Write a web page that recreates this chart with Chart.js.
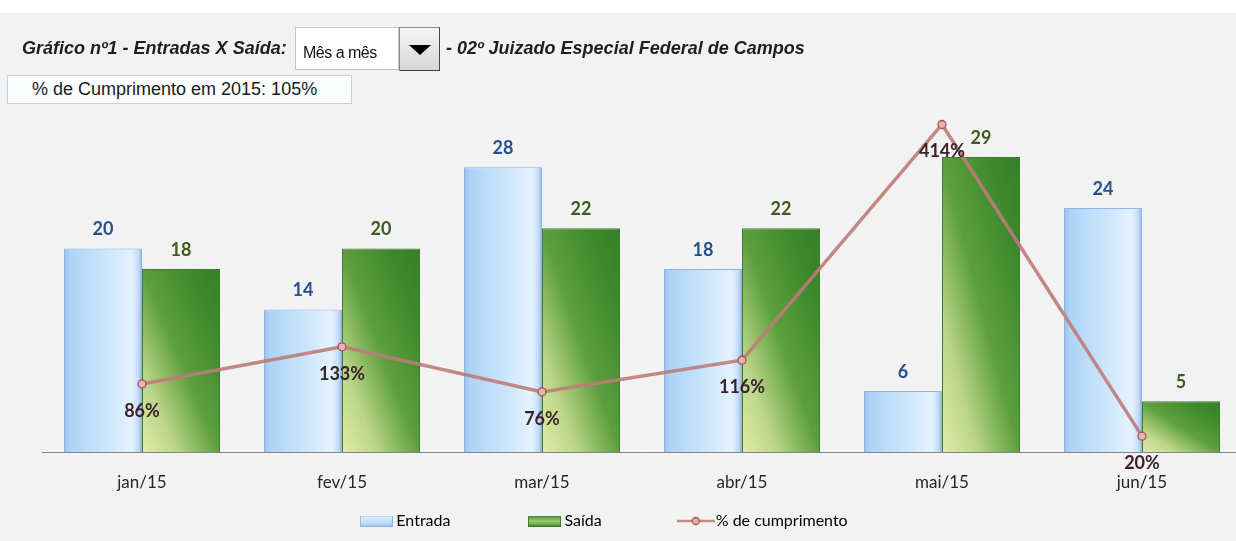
<!DOCTYPE html>
<html>
<head>
<meta charset="utf-8">
<script src="https://cdn.jsdelivr.net/npm/chart.js@4.4.0/dist/chart.umd.min.js"></script>
<style>
  html, body { margin: 0; padding: 0; width: 1236px; height: 541px; overflow: hidden; background: #f2f2f2; }
  #faixa { position: absolute; left: 0; top: 0; width: 1236px; height: 13px; background: #fff; }
  #grafico { position: absolute; left: 0; top: 0; }
  .titulo { position: absolute; font-family: "Liberation Sans", Arial, sans-serif; font-weight: bold; font-style: italic;
            font-size: 18px; line-height: 20px; color: #1e1e1e; white-space: nowrap; z-index: 2; }
  #combo { position: absolute; left: 295px; top: 27px; width: 104px; height: 43px; background: #fff; border: 1px solid #c4c4c4;
           font-family: "Liberation Sans", Arial, sans-serif; font-size: 16px; letter-spacing: -0.5px; line-height: 50px;
           padding-left: 7px; box-sizing: border-box; color: #111; z-index: 2; }
  #botao { position: absolute; left: 399px; top: 27px; width: 41px; height: 44px; box-sizing: border-box;
           background: linear-gradient(#f6f6f6, #d6d6d6); border: 1px solid #8a8a8a; border-right-color: #444; border-bottom-color: #444; z-index: 2; }
  #seta { position: absolute; left: 409px; top: 45px; width: 0; height: 0; border-left: 11px solid transparent;
          border-right: 11px solid transparent; border-top: 10px solid #000; z-index: 3; }
  #caixa { position: absolute; left: 7px; top: 75px; width: 345px; height: 29px; box-sizing: border-box; background: #fcfdff;
           border: 1px solid #c3d1e6; font-family: "Liberation Sans", Arial, sans-serif; font-size: 18px; line-height: 27px;
           padding-left: 24px; color: #1a1a1a; white-space: nowrap; z-index: 2; }
</style>
</head>
<body>
<div id="faixa"></div>
<canvas id="grafico" width="1250" height="541"></canvas>
<div class="titulo" style="left:22px; top:38px;">Gráfico nº1 - Entradas X Saída:</div>
<div id="combo">Mês a mês</div>
<div id="botao"></div>
<div id="seta"></div>
<div class="titulo" style="left:446px; top:38px;">- 02º Juizado Especial Federal de Campos</div>
<div id="caixa">% de Cumprimento em 2015: 105%</div>
<script>
var meses = ['jan/15', 'fev/15', 'mar/15', 'abr/15', 'mai/15', 'jun/15'];
var entrada = [20, 14, 28, 18, 6, 24];
var saida = [18, 20, 22, 22, 29, 5];
var cumprimento = [86, 133, 76, 116, 414, 20];
var nomesSeries = ['Entrada', 'Saída', '% de cumprimento'];

var CAT_PCT = 0.78;
var ESPACO = '\u2003\u2003\u2003\u2003\u2003\u2003';

// caixa de cada barra a partir das escalas do proprio grafico
function caixaBarra(c, lado) {
  var chart = c.chart;
  var xs = chart.scales.x, ys = chart.scales.y;
  if (!xs || !ys || c.dataIndex === undefined) return null;
  var centro = xs.getPixelForValue(c.dataIndex);
  var larg = (xs.right - xs.left) / meses.length * CAT_PCT / 2;
  var x0 = lado === 0 ? centro - larg : centro;
  return { x0: x0, x1: x0 + larg, base: ys.getPixelForValue(0), topo: ys.getPixelForValue(c.raw) };
}

function corEntrada(c) {
  var b = caixaBarra(c, 0);
  if (!b) return '#c6e2fb';
  var g = c.chart.ctx.createLinearGradient(b.x0, 0, b.x1, 0);
  g.addColorStop(0, '#98c0ea');
  g.addColorStop(0.07, '#acd3f7');
  g.addColorStop(0.5, '#c9e4fc');
  g.addColorStop(0.86, '#e3f2fe');
  g.addColorStop(0.95, '#c8def6');
  g.addColorStop(1, '#8fb6e0');
  return g;
}

// gradiente diagonal que acompanha o tamanho da barra (como no Excel)
function corSaida(c) {
  var b = caixaBarra(c, 1);
  if (!b) return '#6aa845';
  var w = Math.max(1, Math.round(b.x1 - b.x0));
  var h = Math.max(1, Math.round(b.base - b.topo));
  var off = document.createElement('canvas');
  off.width = w; off.height = h;
  var o = off.getContext('2d');
  o.setTransform(w, 0, 0, h, 0, 0);
  var g = o.createLinearGradient(0, 1, 1, 0);
  g.addColorStop(0, '#e2eca9');
  g.addColorStop(0.22, '#bcd68a');
  g.addColorStop(0.5, '#5d9f3f');
  g.addColorStop(0.8, '#3d8a2c');
  g.addColorStop(1, '#367f27');
  o.fillStyle = g;
  o.fillRect(0, 0, 1, 1);
  var p = c.chart.ctx.createPattern(off, 'repeat');
  p.setTransform(new DOMMatrix([1, 0, 0, 1, b.x1 - w, b.base - h]));
  return p;
}

// icones da legenda
function icone(w, h, desenha) {
  var cv = document.createElement('canvas');
  cv.width = w; cv.height = h;
  desenha(cv.getContext('2d'), w, h);
  return cv;
}
var icoEntrada = icone(33, 11, function(x, w, h) {
  var g = x.createLinearGradient(0, 0, 0, h);
  g.addColorStop(0, '#e8f4ff'); g.addColorStop(1, '#a9cff3');
  x.fillStyle = g; x.fillRect(0, 0, w, h);
  x.strokeStyle = '#8fb3dc'; x.strokeRect(0.5, 0.5, w - 1, h - 1);
});
var icoSaida = icone(33, 11, function(x, w, h) {
  var g = x.createLinearGradient(0, 0, 0, h);
  g.addColorStop(0, '#3f8a2d'); g.addColorStop(0.5, '#9ccc74'); g.addColorStop(1, '#4e9634');
  x.fillStyle = g; x.fillRect(0, 0, w, h);
  x.strokeStyle = '#3f7a2a'; x.strokeRect(0.5, 0.5, w - 1, h - 1);
});
var icoLinha = icone(38, 10, function(x, w, h) {
  x.strokeStyle = '#c48a86'; x.lineWidth = 2.5;
  x.beginPath(); x.moveTo(0, h / 2); x.lineTo(w, h / 2); x.stroke();
  x.beginPath(); x.arc(w / 2, h / 2, 3.5, 0, Math.PI * 2);
  x.fillStyle = '#e3b3b1'; x.fill();
  x.strokeStyle = '#a0524f'; x.lineWidth = 1.3; x.stroke();
});
var icones = [icoEntrada, icoSaida, icoLinha];

// rotulos de valores
var rotulos = {
  id: 'rotulos',
  afterDatasetsDraw: function(chart) {
    var ctx = chart.ctx;
    ctx.save();
    ctx.textAlign = 'center';
    ctx.textBaseline = 'middle';
    ctx.font = 'bold 18px Lato';
    chart.data.datasets.forEach(function(ds, i) {
      var meta = chart.getDatasetMeta(i);
      meta.data.forEach(function(el, j) {
        var v = ds.data[j];
        if (i === 0) {
          ctx.fillStyle = '#24508c';
          ctx.fillText(v, el.x, el.y - 19);
        } else if (i === 1) {
          ctx.fillStyle = '#3d5a1f';
          ctx.fillText(v, el.x, el.y - 19);
        } else {
          ctx.fillStyle = '#3a2228';
          ctx.fillText(v + '%', el.x, el.y + 27);
        }
      });
    });
    ctx.restore();
  }
};

var PAD_BAIXO = 2;
var BASE_Y = 452;

var chart = new Chart(document.getElementById('grafico').getContext('2d'), {
  type: 'bar',
  data: {
    labels: meses,
    datasets: [
      {
        label: nomesSeries[0], data: entrada, yAxisID: 'y', order: 2,
        backgroundColor: corEntrada, borderColor: '#8fb6e0', borderWidth: 1,
        categoryPercentage: CAT_PCT, barPercentage: 1
      },
      {
        label: nomesSeries[1], data: saida, yAxisID: 'y', order: 2,
        backgroundColor: corSaida, borderColor: '#3f7a2a', borderWidth: 1,
        categoryPercentage: CAT_PCT, barPercentage: 1
      },
      {
        type: 'line', label: nomesSeries[2], data: cumprimento, yAxisID: 'y1', order: 1,
        borderColor: 'rgba(190,124,120,0.9)', borderWidth: 3.5, tension: 0,
        pointRadius: 4, pointBackgroundColor: '#e3b3b1', pointBorderColor: '#a0524f', pointBorderWidth: 1.3
      }
    ]
  },
  options: {
    responsive: false,
    animation: false,
    layout: { padding: { top: 96, left: 42, right: 8, bottom: PAD_BAIXO } },
    plugins: {
      tooltip: { enabled: false },
      legend: {
        position: 'bottom',
        labels: {
          usePointStyle: true,
          pointStyleWidth: 24,
          padding: 10,
          color: '#262626',
          font: { family: 'Lato', size: 16 },
          generateLabels: function() {
            return nomesSeries.map(function(nome, i) {
              return {
                text: nome + ESPACO, pointStyle: icones[i], datasetIndex: i,
                fillStyle: 'rgba(0,0,0,0)', strokeStyle: 'rgba(0,0,0,0)', lineWidth: 0, hidden: false
              };
            });
          }
        }
      }
    },
    scales: {
      x: {
        grid: { display: false, drawTicks: false },
        border: { color: '#868686', width: 1 },
        ticks: { color: '#262626', font: { family: 'Lato', size: 17 }, padding: 20 },
        afterFit: function(s) {
          s.height = s.chart.height - PAD_BAIXO - s.chart.legend.height - BASE_Y;
        }
      },
      y: { display: false, min: 0, max: 35 },
      y1: { display: false, min: 0, max: 450, position: 'right' }
    }
  },
  plugins: [rotulos]
});
</script>
</body>
</html>
